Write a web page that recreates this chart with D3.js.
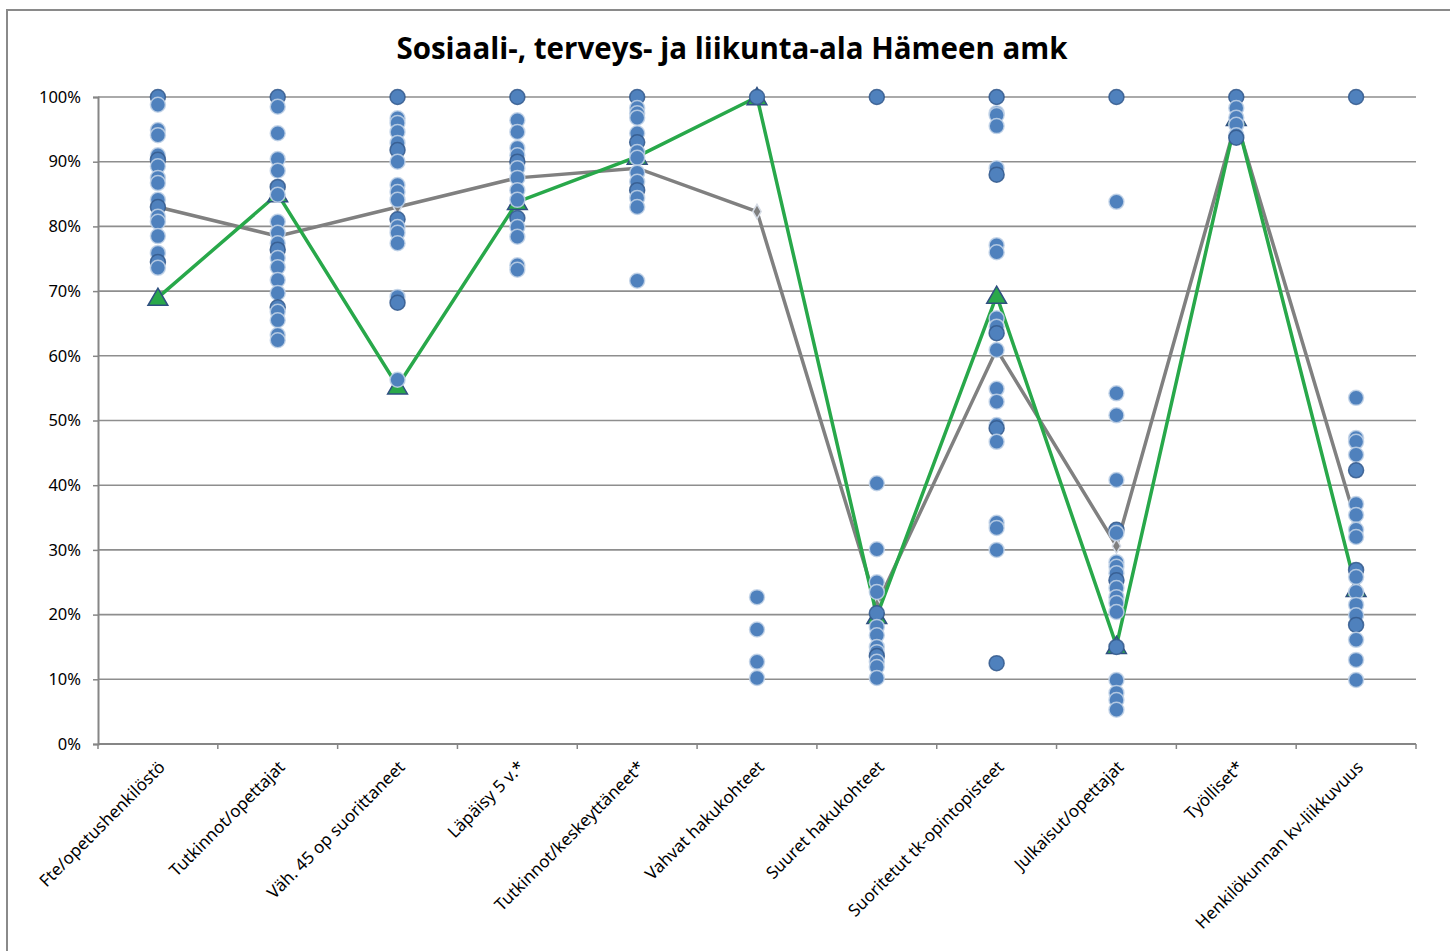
<!DOCTYPE html>
<html>
<head>
<meta charset="utf-8">
<script src="https://cdnjs.cloudflare.com/ajax/libs/d3/7.8.5/d3.min.js"></script>
<style>
    body { margin: 0; background: #fff; }
    svg { display: block; }
</style>
</head>
<body>
<svg id="chart"></svg>
<script>
// categories on the x axis
const categories = ["Fte/opetushenkilöstö", "Tutkinnot/opettajat", "Väh. 45 op suorittaneet", "Läpäisy 5 v.*",
    "Tutkinnot/keskeyttäneet*", "Vahvat hakukohteet", "Suuret hakukohteet", "Suoritetut tk-opintopisteet",
    "Julkaisut/opettajat", "Työlliset*", "Henkilökunnan kv-liikkuvuus"];

// all units per category (percent)
const unitValues = [
    [100, 98.8, 94.9, 94.1, 91.0, 90.3, 89.3, 87.5, 86.7, 84.1, 83.0, 81.5, 80.7, 78.5, 75.9, 74.5, 73.6],
    [100, 98.5, 94.4, 90.4, 88.6, 86.1, 84.9, 80.7, 79.0, 77.4, 76.4, 75.1, 73.7, 71.7, 69.7, 67.5, 66.8, 65.5, 63.2, 62.4],
    [100, 96.7, 96.0, 94.6, 92.9, 91.8, 90.0, 86.4, 85.3, 84.1, 81.1, 79.9, 79.0, 77.4, 69.1, 68.2, 56.3],
    [100, 96.4, 94.6, 92.1, 91.0, 90.0, 89.0, 87.5, 85.6, 84.1, 81.3, 79.9, 78.4, 74.0, 73.3],
    [100, 98.3, 97.5, 96.8, 94.4, 93.0, 91.5, 90.6, 88.3, 86.9, 85.6, 84.4, 83.0, 71.6],
    [100, 22.7, 17.7, 12.7, 10.2],
    [100, 40.3, 30.1, 25.0, 23.5, 20.2, 18.1, 16.8, 15.0, 14.2, 13.6, 12.7, 11.9, 10.2],
    [100, 97.5, 97.2, 95.5, 89.0, 88.0, 77.1, 76.0, 65.8, 64.5, 63.5, 60.9, 54.9, 52.9, 49.3, 48.8, 46.7, 34.2, 33.4, 30.0, 12.5],
    [100, 83.8, 54.2, 50.8, 40.8, 33.1, 32.6, 28.1, 27.4, 26.4, 25.3, 24.1, 22.7, 21.8, 20.4, 15.0, 9.9, 7.9, 6.8, 5.3],
    [100, 98.3, 96.8, 95.7, 94.1, 93.7],
    [100, 53.5, 47.3, 46.7, 44.7, 42.3, 37.1, 35.4, 33.1, 32.0, 26.9, 25.8, 23.5, 21.5, 19.9, 18.4, 16.1, 13.0, 9.9]
];

// average of all units (gray line)
const avgValues = [83.0, 78.5, 83.0, 87.5, 89.0, 82.3, 21.5, 61.0, 30.6, 96.3, 34.3];

// Hämeen amk (green line)
const hamkValues = [69.0, 85.0, 55.3, 83.8, 90.8, 100, 19.8, 69.3, 15.2, 96.8, 24.0];

// y axis ticks
const yTicks = [0, 10, 20, 30, 40, 50, 60, 70, 80, 90, 100];

const title = "Sosiaali-, terveys- ja liikunta-ala Hämeen amk";

// create canvas
const canvWidth = 1450;
const canvHeight = 951;
const margin = { top: 97, right: 34, bottom: 207, left: 98 };
const width = canvWidth - margin.left - margin.right;
const height = canvHeight - margin.top - margin.bottom;

const svg = d3.select("#chart")
    .attr("width", canvWidth)
    .attr("height", canvHeight);

// outer chart border
svg.append("rect")
    .attr("x", 7)
    .attr("y", 10)
    .attr("width", canvWidth + 10)
    .attr("height", canvHeight + 10)
    .attr("fill", "none")
    .attr("stroke", "#8a8a8a")
    .attr("stroke-width", 2);

// title
svg.append("text")
    .attr("x", 732)
    .attr("y", 59)
    .attr("text-anchor", "middle")
    .style("font-family", "'Open Sans', 'Noto Sans', sans-serif")
    .style("font-weight", "bold")
    .style("font-size", "29.5px")
    .attr("fill", "#000")
    .text(title);

const g = svg.append("g")
    .attr("transform", "translate(" + margin.left + "," + margin.top + ")");

// scales
const x = d3.scaleBand()
    .domain(categories)
    .range([0, width]);

const y = d3.scaleLinear()
    .domain([0, 100])
    .range([height, 0]);

const cx = function (i) {
    return x(categories[i]) + x.bandwidth() / 2;
};

// gridlines
g.append("g")
    .selectAll("line")
    .data(yTicks.slice(1))
    .enter().append("line")
    .attr("x1", 0)
    .attr("x2", width)
    .attr("y1", d => y(d))
    .attr("y2", d => y(d))
    .attr("stroke", "#8e8e8e")
    .attr("stroke-width", 1.6);

// y axis
const yAxis = g.append("g")
    .call(d3.axisLeft(y).tickValues(yTicks).tickSize(5).tickPadding(12).tickFormat(d => d + "%"));
yAxis.select(".domain").attr("stroke", "#868686").attr("stroke-width", 2);
yAxis.selectAll(".tick line").attr("stroke", "#868686").attr("stroke-width", 1.5);
yAxis.selectAll(".tick text")
    .style("font-family", "'Noto Sans', sans-serif")
    .style("font-size", "16.5px")
    .attr("fill", "#000");

// x axis, ticks between categories
const xAxis = g.append("g")
    .attr("transform", "translate(0," + height + ")");
xAxis.append("line")
    .attr("x1", 0)
    .attr("x2", width)
    .attr("stroke", "#868686")
    .attr("stroke-width", 2);
xAxis.selectAll(".xtick")
    .data(d3.range(categories.length + 1))
    .enter().append("line")
    .attr("class", "xtick")
    .attr("x1", d => d * x.bandwidth())
    .attr("x2", d => d * x.bandwidth())
    .attr("y1", 0)
    .attr("y2", 5)
    .attr("stroke", "#868686")
    .attr("stroke-width", 1.5);

// rotated category labels
xAxis.selectAll(".xlabel")
    .data(categories)
    .enter().append("text")
    .attr("class", "xlabel")
    .attr("transform", (d, i) => "translate(" + (cx(i) + 4) + ",20) rotate(-45)")
    .attr("text-anchor", "end")
    .attr("dy", "0.35em")
    .style("font-family", "'Noto Sans', sans-serif")
    .style("font-size", "17px")
    .attr("fill", "#000")
    .text(d => d);

// line generator
const line = d3.line()
    .x((d, i) => cx(i))
    .y(d => y(d));

// average line (gray)
g.append("path")
    .datum(avgValues)
    .attr("d", line)
    .attr("fill", "none")
    .attr("stroke", "#808080")
    .attr("stroke-width", 3.5);

g.selectAll(".diamond")
    .data(avgValues)
    .enter().append("path")
    .attr("class", "diamond")
    .attr("d", d3.symbol().type(d3.symbolDiamond).size(60))
    .attr("transform", (d, i) => "translate(" + cx(i) + "," + y(d) + ")")
    .attr("fill", "#7f7f7f")
    .attr("stroke", "#d5dbe5")
    .attr("stroke-width", 1.5);

// Hämeen amk line (green)
g.append("path")
    .datum(hamkValues)
    .attr("d", line)
    .attr("fill", "none")
    .attr("stroke", "#28a84a")
    .attr("stroke-width", 3.5);

g.selectAll(".triangle")
    .data(hamkValues)
    .enter().append("path")
    .attr("class", "triangle")
    .attr("d", d3.symbol().type(d3.symbolTriangle).size(170))
    .attr("transform", (d, i) => "translate(" + cx(i) + "," + (y(d) + 2) + ")")
    .attr("fill", "#2aa84a")
    .attr("stroke", "#2f4f80")
    .attr("stroke-width", 1.5);

// unit dots on top
unitValues.forEach(function (vals, i) {
    g.append("g")
        .selectAll("circle")
        .data(vals)
        .enter().append("circle")
        .attr("cx", cx(i))
        .attr("cy", d => y(d))
        .attr("r", 7.5)
        .attr("fill", "#4f81bd")
        .attr("stroke", (d, j) => j % 5 === 0 ? "#34598c" : "#c3d3e8")
        .attr("stroke-width", 1.5)
        .attr("stroke-opacity", 0.85);
});
</script>
</body>
</html>
